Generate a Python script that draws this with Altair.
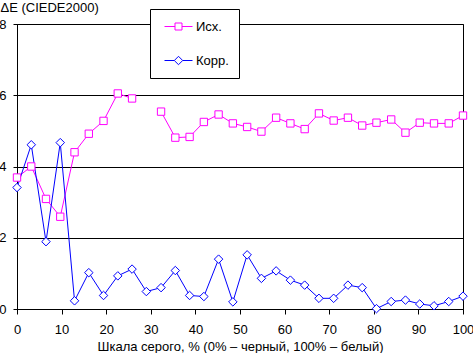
import altair as alt
import pandas as pd

x_vals = [0, 3.2, 6.5, 9.7, 12.9, 16.1, 19.4, 22.6, 25.8, 29.0, 32.3, 35.5, 38.7, 41.9, 45.2, 48.4,
          51.6, 54.8, 58.1, 61.3, 64.5, 67.7, 71.0, 74.2, 77.4, 80.6, 83.9, 87.1, 90.3, 93.5, 96.8, 100]
isx = [3.69, 4.00, 3.09, 2.59, 4.40, 4.92, 5.28, 6.05, 5.91, None, 5.54, 4.81, 4.83, 5.25, 5.46, 5.21,
       5.11, 4.98, 5.37, 5.21, 5.05, 5.49, 5.29, 5.37, 5.15, 5.23, 5.32, 4.95, 5.23, 5.21, 5.21, 5.43]
korr = [3.41, 4.61, 1.89, 4.67, 0.23, 1.02, 0.38, 0.93, 1.12, 0.49, 0.60, 1.08, 0.38, 0.35, 1.40, 0.20,
        1.52, 0.86, 1.07, 0.81, 0.67, 0.30, 0.30, 0.67, 0.60, 0.01, 0.21, 0.25, 0.14, 0.09, 0.21, 0.36]
series = ["Исх.", "Корр."]
colors = ["#FF00FF", "#0000FF"]
x_ticks = [0, 10, 20, 30, 40, 50, 60, 70, 80, 90, 100]
y_ticks = [0, 2, 4, 6, 8]

rows = []
for i, xv in enumerate(x_vals):
    rows.append({"x": xv, "y": isx[i], "s": series[0]})
    rows.append({"x": xv, "y": korr[i], "s": series[1]})
df = pd.DataFrame(rows)

FONT = "Liberation Sans"

xenc = alt.X("x:Q", scale=alt.Scale(domain=[0, 100], nice=False),
             axis=alt.Axis(values=x_ticks, grid=False, tickSize=5, labelPadding=9,
                           title="Шкала серого, % (0% – черный, 100% – белый)", titlePadding=4,
                           labelFlush=False))
yenc = alt.Y("y:Q", scale=alt.Scale(domain=[0, 8], nice=False),
             axis=alt.Axis(values=y_ticks, grid=True, tickSize=4, labelPadding=7,
                           title="ΔE (CIEDE2000)", titleAngle=0, titleAlign="left",
                           titleBaseline="top", titleX=-17, titleY=-23))
cscale = alt.Scale(domain=series, range=colors)

base = alt.Chart(df)
da = base.transform_filter(alt.datum.s == series[0])
db = base.transform_filter(alt.datum.s == series[1])

line_a = da.mark_line(strokeWidth=1, color=colors[0], invalid="break-paths-show-domains").encode(x=xenc, y=yenc)
line_b = db.mark_line(strokeWidth=1, color=colors[1]).encode(x="x:Q", y="y:Q")

pts_a = da.mark_point(
    shape="square", size=54, filled=True, fill="white", stroke=colors[0], strokeWidth=1, opacity=1
).encode(x="x:Q", y="y:Q")
pts_b = db.mark_point(
    shape="diamond", size=72, filled=True, fill="white", stroke=colors[1], strokeWidth=1, opacity=1
).encode(x="x:Q", y="y:Q")

sq_path = "M-2,0H-0.5M0.5,0H2M-0.5,-0.5H0.5V0.5H-0.5Z"
dm_path = "M-2,0H-0.6M0.6,0H2M0,-0.6L0.6,0L0,0.6L-0.6,0Z"

leg = base.mark_point(opacity=0, filled=False).encode(
    x="x:Q", y="y:Q",
    color=alt.Color("s:N", scale=cscale, title=None,
                    legend=alt.Legend(orient="none", legendX=133, legendY=-15,
                                      symbolOpacity=1, symbolSize=196, symbolStrokeWidth=1,
                                      symbolFillColor="white",
                                      padding=10, rowPadding=19, symbolOffset=11, labelOffset=10,
                                      fillColor="white", strokeColor="black",
                                      labelFont=FONT, labelFontSize=13, labelColor="black")),
    shape=alt.Shape("s:N", scale=alt.Scale(domain=series, range=[sq_path, dm_path]), title=None),
)

chart = alt.layer(line_a, line_b, leg, pts_a, pts_b).properties(
    width=446, height=285,
    autosize=alt.AutoSizeParams(type="none"),
    padding={"left": 17, "top": 24, "right": 10, "bottom": 44},
).configure(background="white").configure_view(stroke="black", strokeWidth=1).configure_axis(
    domainColor="black", tickColor="black", gridColor="black", gridOpacity=1,
    labelFont=FONT, labelFontSize=13, labelColor="black",
    titleFont=FONT, titleFontSize=13, titleColor="black", titleFontWeight="normal",
)

chart.save("out.html", embed_options={"renderer": "svg", "actions": False})
